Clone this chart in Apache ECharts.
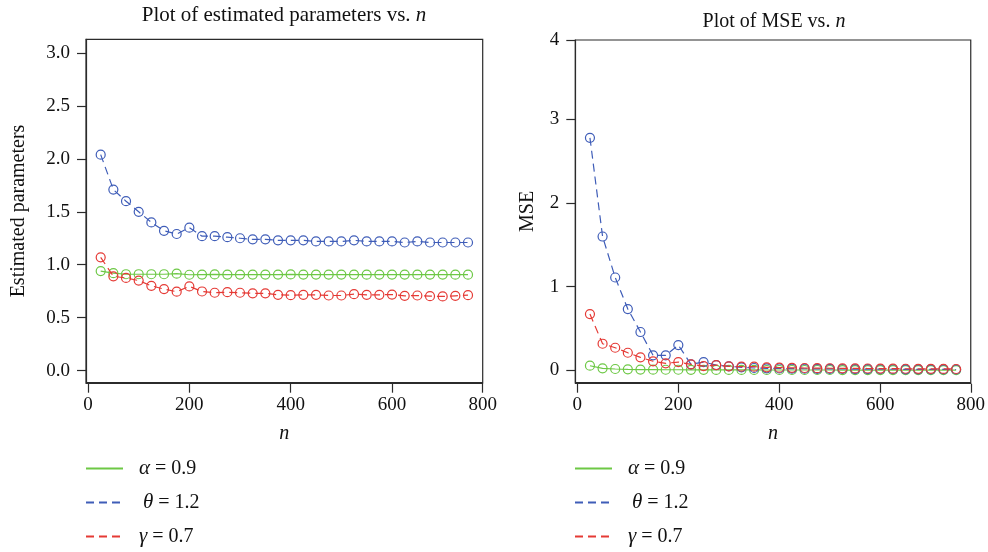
<!DOCTYPE html>
<html>
<head>
<meta charset="utf-8">
<script src="https://cdn.jsdelivr.net/npm/echarts@6/dist/echarts.min.js"></script>
<style>
  html, body { margin: 0; padding: 0; background: #fff; }
  #chart { width: 988px; height: 552px; }
</style>
</head>
<body>
<div id="chart"></div>
<script>
// ---- data ----
const nValues = [25, 50, 75, 100, 125, 150, 175, 200, 225, 250, 275, 300, 325, 350, 375,
                 400, 425, 450, 475, 500, 525, 550, 575, 600, 625, 650, 675, 700, 725, 750];

const alphaEst = [0.94, 0.92, 0.91, 0.91, 0.91, 0.91, 0.915, 0.905, 0.907, 0.908, 0.907, 0.907, 0.907, 0.907, 0.907,
                  0.908, 0.907, 0.907, 0.907, 0.907, 0.907, 0.906, 0.907, 0.907, 0.907, 0.906, 0.907, 0.907, 0.906, 0.906];
const thetaEst = [2.04, 1.71, 1.60, 1.50, 1.40, 1.32, 1.29, 1.35, 1.27, 1.27, 1.26, 1.25, 1.24, 1.24, 1.23,
                  1.23, 1.23, 1.22, 1.22, 1.22, 1.23, 1.22, 1.22, 1.22, 1.21, 1.22, 1.21, 1.21, 1.21, 1.21];
const gammaEst = [1.07, 0.89, 0.875, 0.85, 0.80, 0.77, 0.745, 0.795, 0.747, 0.735, 0.74, 0.735, 0.73, 0.73, 0.715,
                  0.712, 0.715, 0.715, 0.709, 0.709, 0.722, 0.715, 0.715, 0.718, 0.706, 0.709, 0.703, 0.70, 0.706, 0.712];

const alphaMSE = [0.055, 0.024, 0.016, 0.012, 0.009, 0.008, 0.007, 0.007, 0.006, 0.006, 0.005, 0.005, 0.005, 0.005, 0.004,
                  0.004, 0.004, 0.004, 0.004, 0.004, 0.003, 0.003, 0.003, 0.003, 0.003, 0.003, 0.003, 0.003, 0.003, 0.003];
const thetaMSE = [2.78, 1.60, 1.11, 0.733, 0.458, 0.179, 0.179, 0.302, 0.072, 0.099, 0.063, 0.048, 0.036, 0.028, 0.024,
                  0.022, 0.021, 0.019, 0.018, 0.017, 0.016, 0.015, 0.014, 0.013, 0.013, 0.012, 0.012, 0.011, 0.011, 0.010];
const gammaMSE = [0.673, 0.318, 0.270, 0.21, 0.155, 0.108, 0.084, 0.099, 0.072, 0.051, 0.063, 0.048, 0.044, 0.044, 0.036,
                  0.032, 0.030, 0.028, 0.026, 0.025, 0.024, 0.023, 0.022, 0.021, 0.020, 0.019, 0.018, 0.018, 0.017, 0.016];

const seriesNames = ['α = 0.9', 'θ = 1.2', 'γ = 0.7'];
const xTickLabels = ['0', '200', '400', '600', '800'];
const yTickLabelsLeft = ['0.0', '0.5', '1.0', '1.5', '2.0', '2.5', '3.0'];
const yTickLabelsRight = ['0', '1', '2', '3', '4'];

// ---- styling ----
const FONT = '"Liberation Serif", "DejaVu Serif", serif';
const AXIS_COLOR = '#2b2b2b';
const COLORS = ['#6DC845', '#3F5DB8', '#E53A35'];
const DASH = [[], [8, 5], [8, 5]];

const xTickPos = [0, 200, 400, 600, 779];
const yTickPosLeft = [0, 0.5, 1, 1.5, 2, 2.5, 3];
const yTickPosRight = [0, 1, 2, 3, 3.95];

function pairs(ys) { return nValues.map((n, i) => [n, ys[i]]); }

function lineSeries(name, idx, ys, axisIdx) {
  return {
    name: name,
    type: 'line',
    xAxisIndex: axisIdx,
    yAxisIndex: axisIdx,
    data: pairs(ys),
    symbol: 'circle',
    symbolSize: 9,
    showSymbol: true,
    lineStyle: { color: COLORS[idx], width: 1.2, type: DASH[idx].length ? DASH[idx] : 'solid' },
    itemStyle: { color: 'rgba(255,255,255,0)', borderColor: COLORS[idx], borderWidth: 1.2 },
    emphasis: { disabled: true },
    z: 2 + idx
  };
}

function xAxisDef(gridIndex) {
  return {
    type: 'value', gridIndex: gridIndex, min: -4, max: 779, offset: 1,
    name: 'n', nameLocation: 'middle', nameGap: 40,
    nameTextStyle: { fontFamily: FONT, fontSize: 20, fontStyle: 'italic', color: '#111' },
    axisLine: { show: true, onZero: false, lineStyle: { color: AXIS_COLOR, width: 1.2 } },
    axisTick: { show: true, length: 9, customValues: xTickPos, lineStyle: { color: AXIS_COLOR, width: 1.2 } },
    axisLabel: {
      customValues: xTickPos, margin: 12, fontFamily: FONT, fontSize: 19, color: '#111',
      formatter: v => xTickLabels[xTickPos.indexOf(v)]
    },
    splitLine: { show: false }
  };
}

function yAxisDef(gridIndex, min, max, pos, labels, name, nameGap) {
  return {
    type: 'value', gridIndex: gridIndex, min: min, max: max,
    name: name, nameLocation: 'middle', nameGap: nameGap,
    nameTextStyle: { fontFamily: FONT, fontSize: 20, color: '#111' },
    axisLine: { show: true, onZero: false, lineStyle: { color: AXIS_COLOR, width: 1.2 } },
    axisTick: { show: true, length: 9, customValues: pos, lineStyle: { color: AXIS_COLOR, width: 1.2 } },
    axisLabel: {
      customValues: pos, margin: 16, fontFamily: FONT, fontSize: 19, color: '#111',
      formatter: v => labels[pos.indexOf(v)]
    },
    splitLine: { show: false }
  };
}

function legendDef(left) {
  return {
    type: 'plain',
    orient: 'vertical', left: left, top: 458, height: 100,
    padding: 0,
    itemWidth: 37, itemHeight: 14, itemGap: 13,
    selectedMode: false,
    data: seriesNames,
    itemStyle: { opacity: 0 },
    textStyle: {
      fontFamily: FONT, fontSize: 20, color: '#111', lineHeight: 14,
      rich: {
        sp: { width: 11, fontSize: 20, fontFamily: FONT, lineHeight: 14 },
        sp2: { width: 15, fontSize: 20, fontFamily: FONT, lineHeight: 14 },
        g: { fontStyle: 'italic', fontSize: 21, fontFamily: FONT, color: '#111', lineHeight: 14 },
        t: { fontSize: 20, fontFamily: FONT, color: '#111', lineHeight: 14 }
      }
    },
    formatter: name => {
      const greek = name.charAt(0);
      const rest = name.slice(1);
      const sp = greek === 'θ' ? 'sp2' : 'sp';
      return '{' + sp + '| }{g|' + greek + '}{t|' + rest + '}';
    }
  };
}

function titleRich(size) {
  return {
    a: { fontFamily: FONT, fontSize: size, fontWeight: 'normal', color: '#111' },
    i: { fontFamily: FONT, fontSize: size, fontWeight: 'normal', fontStyle: 'italic', color: '#111' }
  };
}

const chart = echarts.init(document.getElementById('chart'), null, { renderer: 'canvas' });
chart.setOption({
  animation: false,
  backgroundColor: '#ffffff',
  title: [
    {
      text: '{a|Plot of estimated parameters vs. }{i|n}',
      left: 279, top: 0, textAlign: 'center',
      textStyle: { fontWeight: 'normal', rich: titleRich(21) }
    },
    {
      text: '{a|Plot of MSE vs. }{i|n}',
      left: 769, top: 7, textAlign: 'center',
      textStyle: { fontWeight: 'normal', rich: titleRich(20) }
    }
  ],
  grid: [
    { left: 86, right: 505.3, top: 39.3, bottom: 169.3, show: true, borderColor: AXIS_COLOR, borderWidth: 1.2, backgroundColor: 'transparent' },
    { left: 575.3, right: 16.3, top: 40, bottom: 169.3, show: true, borderColor: AXIS_COLOR, borderWidth: 1.2, backgroundColor: 'transparent' }
  ],
  xAxis: [xAxisDef(0), xAxisDef(1)],
  yAxis: [
    yAxisDef(0, -0.115, 3.13, yTickPosLeft, yTickLabelsLeft, 'Estimated parameters', 57),
    yAxisDef(1, -0.148, 3.95, yTickPosRight, yTickLabelsRight, 'MSE', 38)
  ],
  legend: [legendDef(85), legendDef(574)],
  series: [
    lineSeries(seriesNames[0], 0, alphaEst, 0),
    lineSeries(seriesNames[1], 1, thetaEst, 0),
    lineSeries(seriesNames[2], 2, gammaEst, 0),
    lineSeries(seriesNames[0], 0, alphaMSE, 1),
    lineSeries(seriesNames[1], 1, thetaMSE, 1),
    lineSeries(seriesNames[2], 2, gammaMSE, 1)
  ]
});
</script>
</body>
</html>
